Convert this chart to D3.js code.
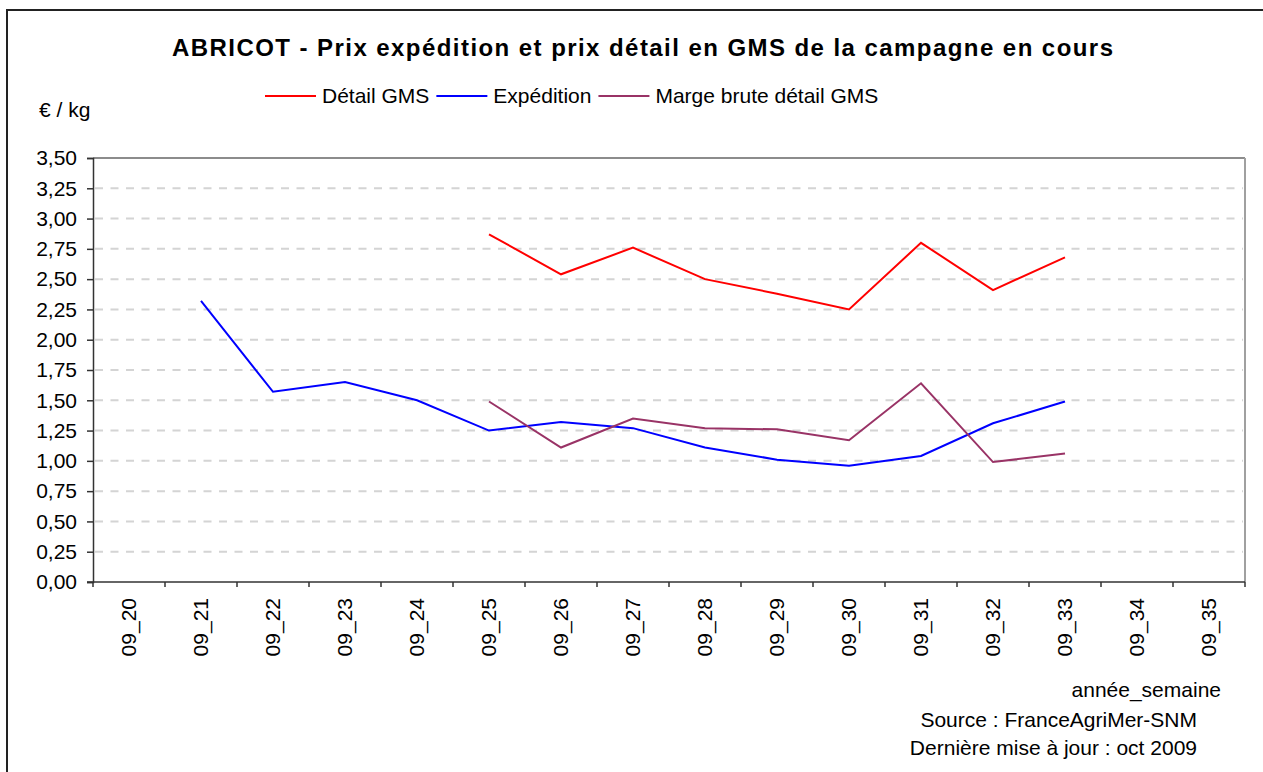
<!DOCTYPE html>
<html>
<head>
<meta charset="utf-8">
<script src="https://cdn.jsdelivr.net/npm/d3@7"></script>
<style>
    body { margin: 0; background: #fff; }
    svg { display: block; font-family: "Liberation Sans", Arial, sans-serif; }
</style>
</head>
<body>
<svg id="chart" width="1263" height="772"></svg>
<script>
// weeks (année_semaine)
let weeks = ["09_20", "09_21", "09_22", "09_23", "09_24", "09_25", "09_26", "09_27",
    "09_28", "09_29", "09_30", "09_31", "09_32", "09_33", "09_34", "09_35"];

// €/kg, null = no value
let detailGMS = [null, null, null, null, null, 2.87, 2.54, 2.76, 2.50, 2.38, 2.25, 2.80, 2.41, 2.68, null, null];
let expedition = [null, 2.32, 1.57, 1.65, 1.50, 1.25, 1.32, 1.27, 1.11, 1.01, 0.96, 1.04, 1.31, 1.49, null, null];
let margeBrute = [null, null, null, null, null, 1.49, 1.11, 1.35, 1.27, 1.26, 1.17, 1.64, 0.99, 1.06, null, null];

let yTicks = [0, 0.25, 0.5, 0.75, 1, 1.25, 1.5, 1.75, 2, 2.25, 2.5, 2.75, 3, 3.25, 3.5];

let series = [
    { name: "Détail GMS", values: detailGMS, color: "#ff0000" },
    { name: "Expédition", values: expedition, color: "#0000ff" },
    { name: "Marge brute détail GMS", values: margeBrute, color: "#993366" }
];

let svg = d3.select("#chart");
let fontSize = 21;

// outer frame (right / bottom edges fall outside the picture)
svg.append("rect")
    .attr("x", 7).attr("y", 10)
    .attr("width", 1300).attr("height", 800)
    .attr("fill", "none")
    .attr("stroke", "#222")
    .attr("stroke-width", 2);

let plot = { left: 93, right: 1245, top: 158, bottom: 582 };

let x = d3.scaleBand()
    .domain(weeks)
    .range([plot.left, plot.right]);

let y = d3.scaleLinear()
    .domain([0, 3.5])
    .range([plot.bottom, plot.top]);

// gridlines
svg.append("g")
    .selectAll("line")
    .data(yTicks.filter(d => d > 0 && d < 3.5))
    .enter().append("line")
    .attr("x1", plot.left + 2)
    .attr("x2", plot.right - 2)
    .attr("y1", d => y(d))
    .attr("y2", d => y(d))
    .attr("stroke", "#d4d4d4")
    .attr("stroke-width", 2)
    .attr("stroke-dasharray", "8,7.5");

// plot frame top & right
svg.append("line")
    .attr("x1", plot.left).attr("x2", plot.right)
    .attr("y1", plot.top).attr("y2", plot.top)
    .attr("stroke", "#666").attr("stroke-width", 1.5);
svg.append("line")
    .attr("x1", plot.right).attr("x2", plot.right)
    .attr("y1", plot.top).attr("y2", plot.bottom)
    .attr("stroke", "#a0a0a0").attr("stroke-width", 2);

// y axis
let fmt = d => d3.format(".2f")(d).replace(".", ",");
let yAxis = svg.append("g")
    .attr("transform", `translate(${plot.left},0)`)
    .call(d3.axisLeft(y).tickValues(yTicks).tickFormat(fmt).tickSize(6).tickPadding(10));
yAxis.select(".domain").attr("stroke", "#333").attr("stroke-width", 1.5);
yAxis.selectAll(".tick line").attr("stroke", "#333").attr("stroke-width", 1.5);
yAxis.selectAll(".tick text")
    .attr("font-size", fontSize)
    .attr("font-family", "Liberation Sans, Arial, sans-serif")
    .attr("fill", "#000");

// x axis: ticks at band edges
let xAxis = svg.append("g")
    .attr("transform", `translate(0,${plot.bottom})`);
xAxis.append("line")
    .attr("x1", plot.left - 6).attr("x2", plot.right)
    .attr("stroke", "#333").attr("stroke-width", 1.5);
xAxis.selectAll("line.tick")
    .data(weeks.concat(["end"]))
    .enter().append("line")
    .attr("class", "tick")
    .attr("x1", (d, i) => plot.left + i * x.bandwidth())
    .attr("x2", (d, i) => plot.left + i * x.bandwidth())
    .attr("y1", 0).attr("y2", 5)
    .attr("stroke", "#333").attr("stroke-width", 1.5);
xAxis.selectAll("text")
    .data(weeks)
    .enter().append("text")
    .attr("transform", d => `translate(${x(d) + x.bandwidth() / 2},16) rotate(-90)`)
    .attr("text-anchor", "end")
    .attr("dy", "0.35em")
    .attr("font-size", fontSize)
    .text(d => d);

// lines
let line = d3.line()
    .defined(d => d.v != null)
    .x(d => x(d.week) + x.bandwidth() / 2)
    .y(d => y(d.v));

series.forEach(s => {
    svg.append("path")
        .datum(weeks.map((w, i) => ({ week: w, v: s.values[i] })))
        .attr("fill", "none")
        .attr("stroke", s.color)
        .attr("stroke-width", 2)
        .attr("stroke-linejoin", "miter")
        .attr("d", line);
});

// title
svg.append("text")
    .attr("x", 172).attr("y", 56)
    .attr("font-size", 24)
    .attr("font-weight", "bold")
    .attr("textLength", 941)
    .attr("lengthAdjust", "spacing")
    .text("ABRICOT - Prix expédition et prix détail en GMS de la campagne en cours");

// legend
let lx = 265;
series.forEach(s => {
    svg.append("line")
        .attr("x1", lx).attr("x2", lx + 51)
        .attr("y1", 96).attr("y2", 96)
        .attr("stroke", s.color).attr("stroke-width", 2);
    let t = svg.append("text")
        .attr("x", lx + 57).attr("y", 103)
        .attr("font-size", fontSize)
        .text(s.name);
    lx += 57 + t.node().getComputedTextLength() + 7;
});

// unit
svg.append("text")
    .attr("x", 39).attr("y", 117)
    .attr("font-size", fontSize)
    .text("€ / kg");

// footer
svg.append("text")
    .attr("x", 1221).attr("y", 697)
    .attr("text-anchor", "end")
    .attr("font-size", fontSize)
    .text("année_semaine");
svg.append("text")
    .attr("x", 1197).attr("y", 727)
    .attr("text-anchor", "end")
    .attr("font-size", fontSize)
    .text("Source : FranceAgriMer-SNM");
svg.append("text")
    .attr("x", 1197).attr("y", 755)
    .attr("text-anchor", "end")
    .attr("font-size", fontSize)
    .text("Dernière mise à jour : oct 2009");
</script>
</body>
</html>
